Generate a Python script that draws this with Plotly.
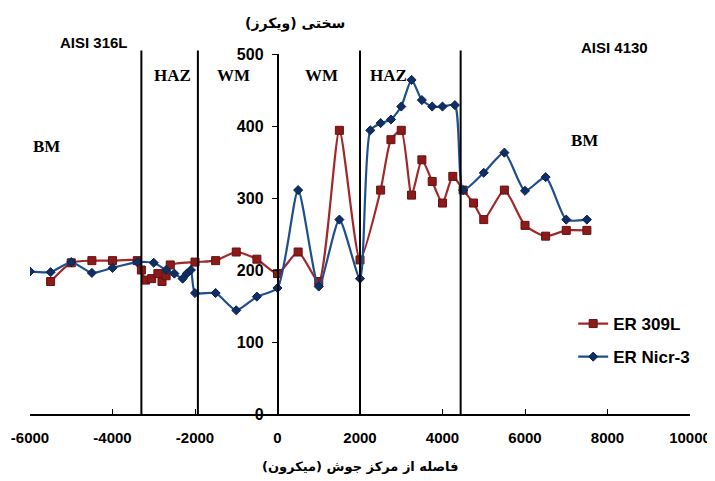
import plotly.graph_objects as go

# ER 309L series
red_x = [-5500, -5000, -4500, -4000, -3400, -3300, -3200, -3050, -2900, -2800, -2700, -2600,
         -2000, -1500, -1000, -500, 0, 500, 1000, 1500, 2000, 2500, 2750, 3000, 3250, 3500,
         3750, 4000, 4250, 4500, 4750, 5000, 5500, 6000, 6500, 7000, 7500]
red_y = [184, 210, 213, 213, 213, 200, 186, 188, 195, 184, 192, 207,
         211, 213, 225, 215, 195, 225, 184, 394, 214, 311, 381, 394, 304, 353,
         323, 293, 330, 311, 293, 270, 311, 262, 247, 255, 255]

# ER Nicr-3 series
blue_x = [-6000, -5500, -5000, -4500, -4000, -3400, -3000, -2700, -2500, -2300, -2200, -2100,
          -2000, -1500, -1000, -500, 0, 500, 1000, 1500, 2000, 2250, 2500, 2750, 3000, 3250,
          3500, 3750, 4000, 4300, 4500, 5000, 5500, 6000, 6500, 7000, 7500]
blue_y = [198, 197, 211, 196, 203, 211, 210, 200, 195, 188, 195, 200,
          168, 168, 144, 163, 175, 311, 177, 270, 188, 394, 404, 409, 427, 464,
          436, 427, 427, 429, 311, 335, 363, 310, 329, 270, 270]

zone_lines = [-3300, -1930, 2000, 4440]
x_ticks = [-6000, -4000, -2000, 0, 2000, 4000, 6000, 8000, 10000]
x_tick_text = ["-6000", "-4000", "-2000", "0", "2000", "4000", "6000", "8000", "10000"]
y_ticks = [0, 100, 200, 300, 400, 500]

region_labels = [("HAZ", -2550, 470), ("WM", -1070, 470), ("WM", 1070, 470),
                 ("HAZ", 2680, 470), ("BM", -5600, 372), ("BM", 7450, 380)]
material_labels = [("AISI 316L", -4440, 1.033), ("AISI 4130", 8180, 1.019)]

fig = go.Figure()
fig.add_trace(go.Scatter(
    x=red_x, y=red_y, name="ER 309L", mode="lines+markers", legendgroup="a",
    line=dict(color="#A1282A", width=2.2, shape="spline", smoothing=0.6),
    marker=dict(symbol="square", size=8, color="#8B1A1A", line=dict(color="#6A0F0F", width=1)),
))
fig.add_trace(go.Scatter(
    x=blue_x, y=blue_y, name="ER Nicr-3", mode="lines+markers", legendgroup="b",
    line=dict(color="#1F4E8C", width=2.2, shape="spline", smoothing=0.6),
    marker=dict(symbol="diamond", size=7, color="#0F2E62", line=dict(color="#0A2250", width=1)),
))

for xv in zone_lines:
    fig.add_shape(type="line", xref="x", yref="paper", x0=xv, x1=xv, y0=0, y1=1.01,
                  line=dict(color="black", width=2))

for txt, xv, yv in region_labels:
    fig.add_annotation(x=xv, y=yv, xref="x", yref="y", text="<b>" + txt + "</b>", showarrow=False,
                       font=dict(family="Liberation Serif", size=17, color="black"))
for txt, xv, yv in material_labels:
    fig.add_annotation(x=xv, y=yv, xref="x", yref="paper", yanchor="middle", text=txt,
                       showarrow=False,
                       font=dict(family="Liberation Sans", size=15, color="black", weight=600))

fig.add_annotation(x=0.402, y=1.086, xref="paper", yref="paper", yanchor="middle",
                   text="<b>سختی (ویکرز)</b>",
                   showarrow=False, font=dict(family="DejaVu Sans", size=14, color="black"))
fig.add_annotation(x=0.5, y=-0.147, xref="paper", yref="paper", yanchor="middle",
                   text="<b>فاصله از مرکز جوش (میکرون)</b>",
                   showarrow=False, font=dict(family="DejaVu Sans", size=13, color="black"))

fig.update_layout(
    width=715, height=481,
    margin=dict(l=22, r=33, t=46, b=75, autoexpand=False),
    paper_bgcolor="white", plot_bgcolor="white",
    showlegend=True,
    legend=dict(x=0.823, y=0.30, xanchor="left", yanchor="top", bgcolor="rgba(0,0,0,0)",
                font=dict(family="Liberation Sans", size=17, color="black", weight=600),
                tracegroupgap=8, itemwidth=30),
    xaxis=dict(range=[-6000, 10000], tickvals=x_ticks, ticktext=x_tick_text,
               ticks="inside", ticklen=5, automargin=False, ticklabelstandoff=9,
               tickcolor="black", showline=True, linecolor="black", linewidth=1.5,
               showgrid=False, zeroline=False,
               tickfont=dict(family="Liberation Sans", size=15, color="black", weight=600)),
    yaxis=dict(range=[0, 500], tickvals=y_ticks, ticks="outside", ticklen=5, automargin=False,
               ticklabelstandoff=5,
               tickcolor="black", showline=True, linecolor="black", linewidth=1.5,
               showgrid=False, zeroline=False, anchor="free", position=0.375,
               tickfont=dict(family="Liberation Sans", size=16, color="black", weight=600)),
)

fig.write_html("out.html")
